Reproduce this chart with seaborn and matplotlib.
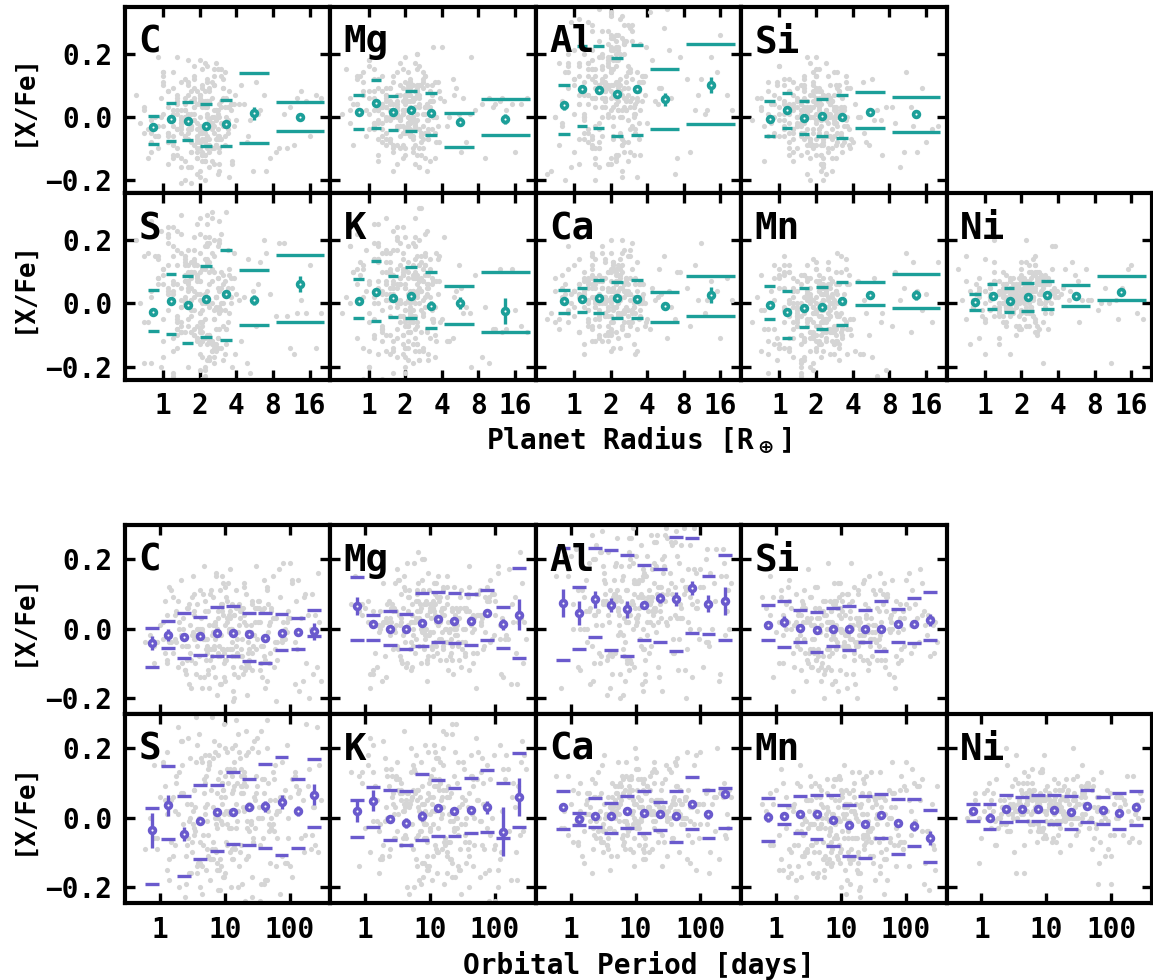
import matplotlib
matplotlib.use("Agg")
import matplotlib.pyplot as plt
import numpy as np
import pandas as pd
import seaborn as sns
from matplotlib.ticker import NullLocator

sns.set_theme(style="white")
plt.rcParams["font.family"] = ["DejaVu Sans Mono", "DejaVu Sans"]
plt.rcParams["font.weight"] = "bold"
plt.rcParams["mathtext.fontset"] = "dejavusans"
plt.rcParams["axes.unicode_minus"] = True
plt.rcParams["text.color"] = "black"
plt.rcParams["axes.labelcolor"] = "black"
plt.rcParams["xtick.color"] = "black"
plt.rcParams["ytick.color"] = "black"

TEAL = "#1c9f99"
PURPLE = "#6a5acd"
GREY = "#d5d5d5"

elements = ["C", "Mg", "Al", "Si", "S", "K", "Ca", "Mn", "Ni"]

# ---------------- background sample ----------------
# host-star abundances ([X/Fe]); each host has an inner (a) and an outer (b) planet
radius_vals = [1.2, 2.4, 0.9, 1.7, 2.8, 3.1, 1.4, 2.2, 0.7, 1.9, 2.6, 3.4, 1.1, 2.0, 5.2, 1.5, 2.3, 2.9, 1.3, 0.8,
               2.1, 3.8, 1.6, 2.5, 12.0, 1.0, 2.7, 3.2, 1.8, 2.2, 0.6, 1.4, 2.4, 3.0, 1.2, 2.0, 7.5, 1.7, 2.6, 3.6,
               1.5, 2.1, 0.9, 1.9, 2.8, 4.2, 1.3, 2.3, 2.5, 1.1, 3.3, 16.0, 1.6, 2.0, 2.7, 0.75, 1.8, 2.4, 3.5, 1.4,
               2.2, 1.0, 2.9, 6.3, 1.7, 2.1, 2.6, 1.2, 3.1, 0.85, 1.5, 2.3, 2.0, 4.6, 1.9, 2.5, 1.3, 3.0, 9.8, 1.6,
               2.2, 2.8, 1.1, 0.95, 2.4, 3.4, 1.8, 2.1, 1.4, 2.7, 13.5, 1.0, 2.0, 3.2, 1.7, 2.3, 0.65, 1.5, 2.6, 3.9,
               1.2, 2.2, 5.8, 1.9, 2.5, 1.3, 2.9, 1.6, 2.1, 3.6, 0.8, 1.8, 2.4, 20.0, 1.1, 2.7, 1.4, 3.0, 2.0, 1.7,
               2.3, 4.9, 1.5, 2.6, 0.9, 1.2, 2.2, 3.3, 11.0, 1.9, 2.8, 1.6, 2.1, 1.0, 3.1, 7.0, 1.3, 2.4, 2.5, 1.8,
               1.4, 2.0, 3.7, 0.7, 2.2, 1.7, 2.9, 15.0, 1.5, 2.3]
period_vals = [3.5, 12.0, 0.8, 25.0, 6.2, 45.0, 2.1, 9.8, 150.0, 18.0, 4.4, 1.5, 33.0, 7.7, 70.0, 14.0, 2.9, 260.0, 11.0, 5.3,
               21.0, 1.1, 8.6, 40.0, 3.0, 110.0, 16.0, 6.8, 55.0, 2.4, 13.0, 0.6, 28.0, 9.0, 4.0, 85.0, 19.0, 1.8, 36.0, 7.1,
               200.0, 10.5, 3.3, 23.0, 5.8, 1.3, 48.0, 15.0, 8.1, 300.0, 2.6, 30.0, 12.5, 4.8, 65.0, 0.9, 17.0, 6.5, 125.0, 22.0,
               3.8, 9.4, 42.0, 2.0, 14.5, 95.0, 5.0, 26.0, 1.6, 11.5, 60.0, 7.3, 180.0, 20.0, 3.1, 38.0, 8.8, 1.2, 16.5, 4.6,
               75.0, 13.5, 2.3, 31.0, 6.0, 240.0, 10.0, 27.0, 3.6, 50.0, 1.9, 18.5, 7.9, 135.0, 24.0, 5.5, 0.7, 12.8, 44.0, 2.8,
               9.2, 58.0, 4.2, 21.5, 1.4, 100.0, 15.5, 6.6, 35.0, 3.4, 11.8, 165.0, 8.3, 29.0, 2.2, 5.1, 80.0, 19.5, 1.7, 13.2,
               4.9, 40.0, 7.5, 220.0, 10.8, 2.5, 26.5, 6.3, 62.0, 17.5, 3.2, 120.0, 9.6, 1.0, 34.0, 5.7, 14.0, 90.0, 8.5, 23.5,
               2.7, 46.0, 4.1, 280.0, 12.2, 7.0, 1.3, 52.0, 18.0, 3.9]
radius_vals_b = [2.0, 1.3, 2.6, 1.8, 0.9, 2.3, 3.0, 1.5, 2.1, 1.1, 2.8, 1.7, 2.4, 3.5, 1.2, 1.9, 2.2, 0.8, 2.7, 1.6,
                 4.4, 2.5, 1.4, 2.0, 3.2, 1.0, 1.8, 2.9, 2.3, 1.3, 6.8, 2.1, 1.6, 2.6, 1.1, 3.3, 1.9, 2.4, 0.7, 1.5,
                 2.2, 3.1, 1.7, 2.8, 1.2, 2.0, 10.5, 1.4, 2.5, 3.7, 1.8, 2.3, 0.95, 1.6, 2.7, 1.3, 3.4, 2.1, 1.9, 2.4,
                 1.1, 2.6, 5.5, 1.5, 2.0, 3.0, 1.7, 2.2, 1.2, 2.9, 0.85, 1.8, 2.5, 3.6, 1.4, 2.1, 18.0, 1.6, 2.3, 1.0,
                 2.8, 1.9, 3.2, 1.3, 2.4, 4.0, 1.5, 2.0, 0.75, 2.6, 1.7, 3.1, 2.2, 1.2, 8.5, 1.8, 2.5, 1.4, 2.9, 2.0,
                 1.1, 3.5, 1.6, 2.3, 1.9, 0.9, 2.7, 1.3, 2.1, 3.8, 1.5, 2.4, 1.7, 12.5, 2.0, 1.2, 2.8, 1.8, 3.3, 1.4,
                 2.2, 0.8, 1.6, 2.6, 5.0, 1.9, 1.1, 2.5, 3.0, 1.7, 2.1, 1.3, 2.4, 6.0, 1.5, 2.0, 2.9, 1.8, 1.0, 2.3,
                 3.4, 1.6, 2.2, 1.2, 2.7, 1.4, 9.0, 2.0, 1.9, 2.5]
period_vals_b = [5.0, 17.0, 2.2, 48.0, 9.5, 1.4, 28.0, 7.0, 95.0, 13.0, 3.7, 60.0, 11.0, 22.0, 4.5, 190.0, 8.0, 1.9, 35.0, 15.0,
                 6.0, 75.0, 2.8, 19.0, 10.0, 40.0, 3.2, 130.0, 12.0, 5.5, 26.0, 0.9, 8.8, 55.0, 16.0, 4.1, 230.0, 9.0, 2.5, 32.0,
                 14.0, 6.7, 85.0, 1.6, 21.0, 11.5, 3.5, 44.0, 7.5, 160.0, 18.0, 5.2, 2.0, 30.0, 10.5, 65.0, 4.3, 13.5, 1.2, 25.0,
                 8.2, 110.0, 3.0, 20.0, 6.3, 38.0, 15.5, 2.4, 70.0, 12.5, 5.8, 270.0, 9.8, 1.7, 27.0, 4.8, 16.5, 50.0, 7.2, 3.4,
                 23.0, 140.0, 11.0, 2.7, 42.0, 6.5, 19.5, 0.8, 14.0, 90.0, 5.0, 31.0, 8.5, 2.1, 58.0, 17.5, 4.0, 210.0, 10.2, 3.8,
                 24.0, 7.8, 1.5, 36.0, 13.0, 80.0, 5.4, 2.9, 20.5, 9.3, 46.0, 3.1, 120.0, 15.0, 6.9, 1.3, 29.0, 11.2, 4.6, 62.0,
                 8.0, 18.5, 2.3, 175.0, 12.0, 5.6, 34.0, 3.6, 100.0, 21.5, 7.4, 1.8, 26.0, 10.0, 52.0, 4.4, 250.0, 14.5, 6.1, 2.6,
                 39.0, 9.0, 16.0, 1.1, 68.0, 5.3, 22.5, 3.3, 12.8, 7.6]

y_C = [-0.03, 0.05, -0.10, 0.01, -0.06, 0.12, -0.02, -0.14, 0.03, -0.08, 0.00, -0.04, 0.08, -0.19, -0.01, 0.04, -0.07, -0.11, 0.02, -0.05,
       0.10, -0.03, -0.16, 0.06, -0.09, 0.14, -0.01, -0.06, 0.03, -0.12, 0.07, -0.04, -0.02, 0.15, -0.08, 0.00, -0.13, 0.05, -0.05, 0.02,
       -0.20, 0.09, -0.03, -0.07, 0.01, 0.04, -0.10, 0.11, -0.02, -0.15, 0.06, -0.06, 0.00, 0.18, -0.09, -0.04, 0.03, -0.11, 0.08, -0.01,
       -0.05, 0.13, -0.17, 0.02, -0.08, 0.05, -0.03, -0.12, 0.09, 0.00, -0.06, 0.16, -0.10, 0.04, -0.02, -0.14, 0.07, -0.07, 0.01, 0.10,
       -0.04, -0.18, 0.03, 0.06, -0.09, -0.01, 0.12, -0.05, -0.13, 0.02, 0.08, -0.03, -0.08, 0.14, -0.11, 0.05, -0.02, 0.00, -0.15, 0.07,
       -0.06, 0.03, 0.11, -0.10, -0.04, 0.19, -0.07, 0.01, -0.12, 0.04, -0.01, 0.09, -0.16, 0.06, -0.05, -0.09, 0.02, 0.13, -0.03, -0.21,
       0.05, -0.08, 0.00, 0.10, -0.06, -0.13, 0.08, -0.02, 0.03, -0.11, 0.15, -0.04, -0.07, 0.01, 0.06, -0.17, 0.04, -0.01, 0.11, -0.09,
       -0.05, 0.07, -0.14, 0.02, 0.17, -0.03, -0.10, 0.05, -0.06, 0.00]
y_Mg = [0.02, -0.04, 0.07, 0.00, 0.11, -0.07, 0.03, 0.05, -0.02, 0.15, -0.10, 0.01, 0.06, -0.05, 0.09, 0.02, -0.01, 0.13, -0.08, 0.04,
        -0.03, 0.08, 0.00, -0.12, 0.05, 0.18, -0.06, 0.03, 0.10, -0.02, 0.01, 0.07, -0.09, 0.04, 0.12, -0.04, 0.02, -0.15, 0.06, 0.00,
        0.09, -0.05, 0.14, 0.01, -0.07, 0.05, 0.03, -0.01, 0.20, -0.03, 0.07, -0.11, 0.02, 0.11, -0.06, 0.04, 0.00, 0.08, -0.13, 0.06,
        -0.02, 0.16, 0.01, -0.08, 0.05, 0.10, -0.04, 0.03, -0.01, 0.13, 0.02, -0.10, 0.07, 0.00, -0.05, 0.09, 0.04, -0.17, 0.06, 0.01,
        0.12, -0.03, 0.08, -0.06, 0.03, 0.22, -0.01, 0.05, -0.09, 0.10, 0.02, -0.04, 0.07, -0.14, 0.04, 0.00, 0.15, -0.07, 0.03, 0.06,
        -0.02, 0.11, -0.11, 0.05, 0.01, 0.08, -0.05, 0.13, 0.00, -0.08, 0.04, 0.17, -0.03, 0.06, 0.02, -0.12, 0.09, -0.01, 0.05, 0.03,
        -0.06, 0.12, 0.00, -0.16, 0.07, 0.02, -0.04, 0.10, 0.04, -0.09, 0.14, 0.01, -0.02, 0.06, -0.07, 0.19, 0.03, -0.03, 0.08, 0.00,
        0.05, -0.10, 0.11, 0.02, -0.05, 0.07, -0.13, 0.04, 0.09, -0.01]
y_Al = [0.08, -0.05, 0.20, 0.03, 0.14, -0.12, 0.27, 0.06, 0.00, 0.17, -0.08, 0.11, 0.31, 0.02, 0.09, -0.15, 0.22, 0.05, 0.13, -0.02,
        0.18, 0.07, -0.10, 0.25, 0.01, 0.12, 0.35, -0.04, 0.10, 0.04, -0.18, 0.15, 0.08, 0.29, -0.07, 0.06, 0.19, 0.00, 0.24, 0.11,
        -0.13, 0.03, 0.16, 0.09, -0.01, 0.33, 0.07, 0.21, -0.09, 0.13, 0.05, 0.26, -0.16, 0.10, 0.02, 0.17, 0.08, -0.06, 0.23, 0.12,
        0.04, -0.11, 0.28, 0.06, 0.15, -0.03, 0.09, 0.20, 0.00, 0.14, -0.20, 0.11, 0.32, 0.05, 0.18, -0.07, 0.07, 0.24, 0.02, 0.10,
        -0.14, 0.16, 0.04, 0.30, 0.08, -0.02, 0.13, 0.21, -0.09, 0.06, 0.19, 0.01, 0.26, -0.05, 0.12, 0.09, -0.17, 0.15, 0.03, 0.22,
        0.07, -0.12, 0.34, 0.10, 0.00, 0.17, 0.05, -0.08, 0.25, 0.13, -0.03, 0.08, 0.20, 0.02, -0.15, 0.11, 0.29, 0.06, 0.14, -0.06,
        0.18, 0.04, -0.10, 0.23, 0.09, 0.01, 0.16, -0.19, 0.12, 0.27, 0.07, -0.04, 0.10, 0.21, 0.03, -0.13, 0.15, 0.08, 0.36, 0.05,
        -0.07, 0.19, 0.11, 0.00, 0.24, 0.06, -0.11, 0.14, 0.09, 0.02]
y_Si = [0.01, -0.05, 0.04, -0.09, 0.00, 0.07, -0.03, -0.12, 0.03, 0.10, -0.06, 0.02, -0.01, 0.13, -0.08, 0.05, -0.15, 0.01, -0.04, 0.08,
        0.00, -0.10, 0.06, -0.02, 0.03, 0.16, -0.07, 0.02, -0.13, 0.04, -0.01, 0.09, -0.05, 0.00, 0.12, -0.09, 0.03, -0.18, 0.06, -0.03,
        0.01, 0.08, -0.06, 0.14, -0.02, 0.04, -0.11, 0.00, 0.07, -0.04, 0.02, -0.08, 0.10, -0.01, 0.05, -0.14, 0.03, -0.06, 0.11, 0.00,
        -0.03, 0.06, -0.09, 0.02, 0.19, -0.05, 0.01, -0.12, 0.08, -0.02, 0.04, -0.07, 0.13, 0.00, -0.10, 0.05, -0.04, 0.09, -0.16, 0.03,
        -0.01, 0.07, -0.06, 0.11, 0.02, -0.08, 0.00, 0.15, -0.03, 0.05, -0.11, 0.01, 0.08, -0.05, 0.03, -0.20, 0.06, -0.02, 0.10, -0.07,
        0.04, -0.01, 0.12, -0.09, 0.00, 0.07, -0.13, 0.02, -0.04, 0.09, -0.06, 0.17, 0.01, -0.03, 0.05, -0.10, 0.03, -0.08, 0.06, 0.00,
        -0.15, 0.11, -0.02, 0.04, -0.05, 0.08, 0.01, -0.11, 0.14, -0.04, 0.02, -0.07, 0.06, -0.01, 0.10, -0.12, 0.03, 0.00, -0.06, 0.07,
        -0.03, 0.13, -0.09, 0.02, -0.17, 0.05, -0.02, 0.09, -0.05, 0.01]
y_S = [0.03, -0.10, 0.15, -0.02, 0.08, -0.18, 0.22, 0.01, -0.06, 0.12, -0.14, 0.05, 0.19, -0.03, -0.22, 0.09, 0.00, 0.26, -0.08, 0.04,
       -0.12, 0.16, -0.01, 0.07, -0.16, 0.11, 0.02, -0.25, 0.13, -0.05, 0.20, -0.09, 0.06, -0.02, 0.24, -0.13, 0.03, 0.10, -0.19, 0.00,
       0.14, -0.07, 0.08, -0.11, 0.18, 0.01, -0.04, 0.28, -0.15, 0.05, -0.08, 0.12, -0.20, 0.07, 0.02, -0.06, 0.17, -0.12, 0.09, -0.01,
       0.21, -0.17, 0.04, 0.13, -0.09, 0.00, 0.10, -0.23, 0.06, -0.03, 0.15, -0.10, 0.27, 0.02, -0.07, 0.11, -0.14, 0.05, 0.19, -0.05,
       -0.11, 0.08, -0.02, 0.23, -0.18, 0.03, 0.12, -0.06, 0.16, -0.13, 0.01, 0.09, -0.21, 0.07, -0.04, 0.14, 0.00, -0.09, 0.20, -0.16,
       0.04, 0.11, -0.07, 0.25, -0.12, 0.06, -0.01, 0.17, -0.24, 0.08, 0.02, -0.10, 0.13, -0.03, 0.22, -0.15, 0.05, 0.10, -0.08, 0.01,
       0.18, -0.19, 0.07, -0.05, 0.14, -0.11, 0.03, 0.29, -0.14, 0.09, -0.02, 0.12, -0.17, 0.06, 0.00, 0.16, -0.08, 0.21, -0.12, 0.04,
       -0.06, 0.10, -0.20, 0.15, 0.02, -0.09, 0.19, -0.03, 0.07, -0.13]
y_K = [0.05, -0.08, 0.12, 0.00, -0.14, 0.09, 0.03, -0.04, 0.18, -0.10, 0.07, -0.01, 0.14, -0.17, 0.04, 0.10, -0.06, 0.22, -0.02, 0.06,
       -0.12, 0.15, 0.01, -0.07, 0.11, -0.20, 0.08, 0.02, 0.19, -0.09, -0.03, 0.13, -0.15, 0.05, 0.25, -0.05, 0.09, -0.11, 0.00, 0.16,
       0.03, -0.18, 0.11, -0.04, 0.07, 0.21, -0.08, 0.01, -0.13, 0.14, 0.06, -0.02, 0.17, -0.22, 0.04, 0.10, -0.06, 0.08, -0.10, 0.27,
       0.02, -0.15, 0.12, -0.01, 0.05, -0.09, 0.20, 0.00, -0.16, 0.09, 0.13, -0.04, 0.06, -0.12, 0.16, 0.03, -0.07, 0.23, -0.19, 0.07,
       -0.03, 0.11, -0.11, 0.04, 0.18, -0.05, 0.01, -0.14, 0.10, 0.30, -0.08, 0.06, -0.02, 0.14, -0.17, 0.08, 0.02, -0.10, 0.12, -0.06,
       0.19, -0.01, 0.05, -0.13, 0.09, -0.24, 0.15, 0.03, -0.07, 0.07, 0.11, -0.04, 0.21, -0.09, 0.00, 0.13, -0.15, 0.06, -0.02, 0.17,
       0.04, -0.11, 0.09, -0.18, 0.02, 0.14, -0.05, 0.08, -0.08, 0.24, 0.01, -0.12, 0.10, -0.03, 0.05, -0.20, 0.16, 0.00, -0.06, 0.12,
       0.07, -0.14, 0.03, 0.18, -0.09, 0.06, -0.01, 0.11, -0.16, 0.04]
y_Ca = [0.01, 0.05, -0.03, 0.08, -0.06, 0.02, 0.11, -0.01, 0.04, -0.09, 0.06, 0.00, 0.14, -0.04, 0.03, -0.12, 0.07, 0.01, -0.02, 0.09,
        0.05, -0.07, 0.02, 0.16, -0.03, 0.04, -0.10, 0.08, 0.00, 0.06, -0.05, 0.12, 0.01, -0.02, 0.03, -0.15, 0.10, 0.05, -0.06, 0.02,
        0.07, -0.01, 0.18, -0.04, 0.04, -0.08, 0.01, 0.09, -0.03, 0.06, 0.13, -0.11, 0.03, 0.00, 0.08, -0.05, 0.02, 0.11, -0.02, 0.05,
        -0.09, 0.04, 0.15, -0.01, 0.07, -0.06, 0.02, 0.10, -0.13, 0.03, 0.06, -0.03, 0.20, 0.01, -0.07, 0.05, 0.08, -0.02, 0.12, -0.04,
        0.03, -0.10, 0.06, 0.00, 0.09, -0.05, 0.14, 0.02, -0.08, 0.04, 0.07, -0.01, 0.11, -0.16, 0.05, 0.01, -0.03, 0.08, 0.17, -0.06,
        0.02, 0.06, -0.11, 0.04, 0.10, -0.02, 0.03, -0.07, 0.13, 0.00, 0.05, -0.04, 0.08, 0.01, -0.09, 0.07, 0.15, -0.03, 0.04, -0.12,
        0.09, 0.02, -0.05, 0.06, 0.11, -0.01, 0.03, -0.08, 0.19, 0.05, -0.02, 0.07, -0.14, 0.04, 0.00, 0.10, -0.06, 0.02, 0.12, -0.04,
        0.06, -0.10, 0.03, 0.08, -0.01, 0.16, -0.07, 0.04, 0.01, -0.03]
y_Mn = [-0.02, 0.04, -0.08, 0.01, -0.13, 0.06, -0.04, -0.10, 0.09, -0.01, -0.16, 0.03, -0.06, 0.11, -0.03, -0.19, 0.05, -0.08, 0.00, -0.12,
        0.07, -0.05, -0.01, 0.13, -0.09, -0.14, 0.02, -0.03, 0.08, -0.17, -0.06, 0.04, -0.11, 0.00, 0.10, -0.07, -0.21, 0.03, -0.02, 0.06,
        -0.13, -0.04, 0.12, -0.09, 0.01, -0.15, 0.05, -0.06, -0.01, 0.09, -0.11, 0.03, -0.18, -0.03, 0.07, -0.08, 0.00, -0.12, 0.14, -0.05,
        -0.02, 0.05, -0.10, -0.23, 0.02, -0.07, 0.08, -0.04, -0.14, 0.04, 0.00, -0.09, 0.11, -0.16, -0.03, 0.06, -0.06, -0.12, 0.01, 0.09,
        -0.08, -0.01, 0.15, -0.11, 0.03, -0.05, -0.20, 0.07, -0.02, -0.09, 0.04, -0.13, 0.00, 0.10, -0.07, -0.15, 0.02, -0.04, 0.06, -0.10,
        0.12, -0.06, -0.17, 0.01, -0.03, 0.08, -0.12, -0.01, 0.04, -0.08, -0.22, 0.05, -0.05, 0.13, -0.14, 0.00, -0.07, 0.03, -0.10, 0.07,
        -0.02, -0.16, 0.09, -0.04, 0.01, -0.11, 0.05, -0.08, 0.16, -0.06, -0.13, 0.02, -0.01, 0.08, -0.18, -0.03, 0.04, -0.09, 0.11, -0.05,
        0.00, -0.12, 0.06, -0.15, 0.03, -0.07, 0.10, -0.02, -0.10, 0.01]
y_Ni = [0.02, -0.01, 0.05, 0.00, 0.08, -0.03, 0.03, 0.06, -0.05, 0.01, 0.10, 0.02, -0.02, 0.04, 0.13, -0.07, 0.03, 0.00, 0.07, -0.01,
        0.05, 0.02, -0.04, 0.09, 0.01, 0.04, -0.10, 0.06, 0.03, -0.02, 0.11, 0.00, 0.05, -0.06, 0.02, 0.08, 0.01, -0.03, 0.15, 0.04,
        -0.01, 0.06, 0.02, -0.08, 0.07, 0.03, 0.00, 0.10, -0.04, 0.05, 0.01, 0.12, -0.02, 0.04, 0.06, -0.13, 0.03, 0.08, 0.00, 0.02,
        0.05, -0.05, 0.09, 0.01, -0.02, 0.07, 0.04, 0.20, -0.01, 0.03, 0.06, -0.07, 0.02, 0.11, 0.00, 0.04, -0.03, 0.08, 0.05, -0.16,
        0.01, 0.06, 0.03, -0.04, 0.10, 0.02, -0.01, 0.07, 0.04, -0.09, 0.05, 0.00, 0.13, 0.03, -0.02, 0.06, 0.01, -0.06, 0.09, 0.04,
        0.02, -0.03, 0.07, 0.00, 0.05, -0.11, 0.08, 0.03, 0.01, 0.18, -0.01, 0.04, 0.06, -0.05, 0.02, 0.10, 0.00, 0.05, -0.08, 0.03,
        0.07, 0.01, -0.02, 0.12, 0.04, -0.04, 0.06, 0.02, -0.19, 0.08, 0.03, 0.00, 0.05, -0.06, 0.09, 0.01, 0.04, -0.01, 0.14, 0.02,
        0.06, -0.03, 0.03, 0.07, -0.07, 0.05, 0.00, 0.11, 0.02, 0.04]
abundances = {"C": y_C, "Mg": y_Mg, "Al": y_Al, "Si": y_Si, "S": y_S,
              "K": y_K, "Ca": y_Ca, "Mn": y_Mn, "Ni": y_Ni}

# ---------------- binned statistics vs planet radius ----------------
radius_bin_center = [0.83, 1.16, 1.6, 2.25, 3.27, 5.6, 13.3]
radius_bin_lo = [0.745, 1.05, 1.44, 2.0, 2.92, 4.2, 8.4]
radius_bin_hi = [0.922, 1.27, 1.75, 2.52, 3.68, 7.36, 21.1]

rad_med = {
    "C": [-0.032, -0.006, -0.013, -0.028, -0.024, 0.011, 0.000],
    "Mg": [0.015, 0.042, 0.014, 0.020, 0.011, -0.015, -0.007],
    "Al": [0.036, 0.087, 0.084, 0.071, 0.087, 0.055, 0.100],
    "Si": [-0.008, 0.020, -0.003, 0.001, -0.001, 0.014, 0.009],
    "S": [-0.026, 0.008, -0.006, 0.013, 0.029, 0.011, 0.061],
    "K": [0.007, 0.037, 0.017, 0.023, -0.007, 0.001, -0.024],
    "Ca": [0.006, 0.013, 0.018, 0.017, 0.014, -0.009, 0.026],
    "Mn": [-0.004, -0.028, -0.015, -0.011, 0.006, 0.027, 0.026],
    "Ni": [0.004, 0.024, 0.007, 0.019, 0.026, 0.024, 0.035],
}
rad_err = {
    "C": [0.008, 0.007, 0.007, 0.007, 0.008, 0.020, 0.010],
    "Mg": [0.008, 0.007, 0.007, 0.007, 0.008, 0.015, 0.015],
    "Al": [0.015, 0.010, 0.008, 0.010, 0.012, 0.020, 0.025],
    "Si": [0.007, 0.007, 0.006, 0.006, 0.007, 0.010, 0.012],
    "S": [0.012, 0.010, 0.010, 0.008, 0.010, 0.015, 0.025],
    "K": [0.008, 0.008, 0.008, 0.008, 0.015, 0.020, 0.040],
    "Ca": [0.006, 0.006, 0.006, 0.006, 0.007, 0.008, 0.025],
    "Mn": [0.007, 0.007, 0.006, 0.006, 0.008, 0.010, 0.015],
    "Ni": [0.005, 0.005, 0.005, 0.005, 0.005, 0.008, 0.010],
}
rad_p84 = {
    "C": [0.003, 0.043, 0.048, 0.040, 0.052, 0.138, 0.046],
    "Mg": [0.068, 0.117, 0.066, 0.083, 0.075, 0.013, 0.055],
    "Al": [0.102, 0.224, 0.224, 0.186, 0.226, 0.151, 0.230],
    "Si": [0.051, 0.074, 0.049, 0.055, 0.068, 0.079, 0.063],
    "S": [0.041, 0.092, 0.087, 0.118, 0.170, 0.107, 0.152],
    "K": [0.076, 0.134, 0.086, 0.114, 0.100, 0.056, 0.100],
    "Ca": [0.043, 0.047, 0.074, 0.067, 0.074, 0.035, 0.088],
    "Mn": [0.054, 0.040, 0.047, 0.051, 0.068, 0.066, 0.092],
    "Ni": [0.029, 0.060, 0.050, 0.065, 0.070, 0.058, 0.087],
}
rad_p16 = {
    "C": [-0.087, -0.078, -0.072, -0.093, -0.091, -0.083, -0.046],
    "Mg": [-0.038, -0.036, -0.043, -0.045, -0.058, -0.097, -0.057],
    "Al": [-0.056, -0.029, -0.036, -0.062, -0.057, -0.038, -0.024],
    "Si": [-0.062, -0.037, -0.055, -0.062, -0.068, -0.036, -0.049],
    "S": [-0.088, -0.097, -0.126, -0.107, -0.116, -0.068, -0.058],
    "K": [-0.045, -0.057, -0.044, -0.046, -0.079, -0.065, -0.090],
    "Ca": [-0.031, -0.028, -0.031, -0.045, -0.045, -0.059, -0.041],
    "Mn": [-0.050, -0.111, -0.074, -0.080, -0.067, -0.004, -0.015],
    "Ni": [-0.021, -0.019, -0.027, -0.025, -0.017, -0.009, 0.012],
}

# ---------------- binned statistics vs orbital period ----------------
period_bin_center = [0.75, 1.33, 2.37, 4.2, 7.5, 13.3, 23.7, 42.0, 75.0, 133.0, 237.0]

per_med = {
    "C": [-0.041, -0.019, -0.025, -0.021, -0.012, -0.013, -0.015, -0.027, -0.013, -0.010, -0.008],
    "Mg": [0.065, 0.012, 0.000, -0.001, 0.017, 0.027, 0.022, 0.021, 0.046, 0.012, 0.040],
    "Al": [0.073, 0.044, 0.084, 0.069, 0.055, 0.067, 0.088, 0.086, 0.116, 0.072, 0.079],
    "Si": [0.009, 0.020, 0.001, -0.003, 0.000, 0.000, 0.000, -0.001, 0.014, 0.012, 0.024],
    "S": [-0.037, 0.035, -0.047, -0.010, 0.017, 0.016, 0.031, 0.032, 0.045, 0.019, 0.066],
    "K": [0.018, 0.048, -0.004, -0.015, 0.005, 0.028, 0.018, 0.021, 0.029, -0.041, 0.060],
    "Ca": [0.029, -0.005, 0.004, 0.005, 0.020, 0.013, 0.010, 0.003, 0.040, 0.009, 0.067],
    "Mn": [0.001, 0.005, 0.011, 0.009, -0.007, -0.021, -0.020, 0.008, -0.017, -0.025, -0.060],
    "Ni": [0.020, 0.000, 0.024, 0.024, 0.025, 0.022, 0.015, 0.032, 0.022, 0.013, 0.031],
}
per_err = {
    "C": [0.020, 0.017, 0.008, 0.007, 0.007, 0.007, 0.007, 0.008, 0.008, 0.010, 0.025],
    "Mg": [0.025, 0.008, 0.007, 0.007, 0.007, 0.007, 0.007, 0.008, 0.010, 0.015, 0.045],
    "Al": [0.040, 0.035, 0.025, 0.020, 0.025, 0.012, 0.015, 0.020, 0.020, 0.025, 0.040],
    "Si": [0.010, 0.015, 0.006, 0.006, 0.006, 0.006, 0.006, 0.006, 0.007, 0.008, 0.018],
    "S": [0.050, 0.030, 0.020, 0.010, 0.010, 0.008, 0.010, 0.015, 0.020, 0.015, 0.030],
    "K": [0.030, 0.030, 0.010, 0.015, 0.015, 0.010, 0.010, 0.010, 0.020, 0.070, 0.055],
    "Ca": [0.010, 0.012, 0.006, 0.006, 0.006, 0.006, 0.006, 0.006, 0.008, 0.012, 0.010],
    "Mn": [0.015, 0.008, 0.007, 0.006, 0.006, 0.006, 0.006, 0.007, 0.008, 0.015, 0.020],
    "Ni": [0.008, 0.012, 0.005, 0.005, 0.005, 0.005, 0.005, 0.005, 0.006, 0.007, 0.008],
}
per_p84 = {
    "C": [0.002, 0.021, 0.044, 0.034, 0.063, 0.064, 0.046, 0.046, 0.042, 0.030, 0.054],
    "Mg": [0.148, 0.040, 0.050, 0.042, 0.102, 0.104, 0.103, 0.098, 0.111, 0.062, 0.174],
    "Al": [0.233, 0.120, 0.233, 0.225, 0.212, 0.182, 0.171, 0.263, 0.261, 0.151, 0.212],
    "Si": [0.067, 0.080, 0.053, 0.047, 0.059, 0.066, 0.052, 0.078, 0.057, 0.088, 0.104],
    "S": [0.027, 0.147, 0.063, 0.095, 0.094, 0.130, 0.111, 0.155, 0.175, 0.112, 0.169],
    "K": [0.051, 0.088, 0.080, 0.076, 0.125, 0.109, 0.084, 0.115, 0.136, 0.100, 0.185],
    "Ca": [0.076, 0.012, 0.055, 0.042, 0.061, 0.076, 0.044, 0.076, 0.117, 0.079, 0.086],
    "Mn": [0.056, 0.037, 0.062, 0.065, 0.064, 0.036, 0.063, 0.067, 0.053, 0.053, 0.022],
    "Ni": [0.040, 0.040, 0.064, 0.059, 0.065, 0.064, 0.062, 0.080, 0.059, 0.072, 0.077],
}
per_p16 = {
    "C": [-0.110, -0.057, -0.084, -0.077, -0.080, -0.079, -0.093, -0.099, -0.061, -0.058, -0.021],
    "Mg": [-0.033, -0.033, -0.048, -0.058, -0.051, -0.038, -0.043, -0.046, -0.033, -0.057, -0.085],
    "Al": [-0.091, -0.058, -0.024, -0.062, -0.078, -0.033, -0.040, -0.065, -0.014, -0.017, -0.033],
    "Si": [-0.033, -0.053, -0.038, -0.067, -0.051, -0.062, -0.040, -0.066, -0.038, -0.043, -0.033],
    "S": [-0.192, -0.062, -0.167, -0.120, -0.095, -0.076, -0.079, -0.088, -0.108, -0.087, -0.027],
    "K": [-0.056, -0.028, -0.064, -0.080, -0.064, -0.052, -0.052, -0.044, -0.041, -0.060, -0.027],
    "Ca": [-0.032, -0.022, -0.028, -0.044, -0.031, -0.044, -0.035, -0.070, -0.033, -0.060, -0.030],
    "Mn": [-0.067, -0.020, -0.045, -0.061, -0.083, -0.111, -0.116, -0.060, -0.105, -0.083, -0.129],
    "Ni": [-0.010, -0.034, -0.014, -0.011, -0.011, -0.019, -0.032, -0.012, -0.020, -0.032, -0.022],
}

radius_ticks = [1, 2, 4, 8, 16]
period_ticks = [1, 10, 100]

# ---------------- layout ----------------
W, H = 1153.0, 980.0
fig = plt.figure(figsize=(W / 100, H / 100), dpi=100)

PANEL_W = 205.4
LEFT0 = 125.0
grid_pos = [(0, 0), (0, 1), (0, 2), (0, 3), (1, 0), (1, 1), (1, 2), (1, 3), (1, 4)]

n = min(len(radius_vals), len(period_vals), len(radius_vals_b), len(period_vals_b),
        *[len(v) for v in abundances.values()])


def make_ax(row, col, top_px, h_px):
    left = LEFT0 + col * PANEL_W
    top = top_px + row * h_px
    return fig.add_axes([left / W, 1 - (top + h_px) / H, PANEL_W / W, h_px / H])


def style_ax(ax, show_x, show_y, xticks, ylim, xlim):
    ax.set_xlim(*xlim)
    ax.set_ylim(*ylim)
    ax.set_xticks(xticks)
    ax.set_xticklabels([str(t) for t in xticks])
    ax.xaxis.set_minor_locator(NullLocator())
    ax.set_yticks([-0.2, 0.0, 0.2])
    ax.yaxis.set_minor_locator(NullLocator())
    ax.tick_params(axis="both", which="major", direction="in", length=7, width=2.4,
                   top=True, right=True, bottom=True, left=True,
                   labelsize=20, pad=9, labelbottom=show_x, labelleft=show_y,
                   colors="black")
    for lab in ax.get_xticklabels() + ax.get_yticklabels():
        lab.set_fontweight("bold")
    for sp in ax.spines.values():
        sp.set_linewidth(3)
        sp.set_color("black")
    ax.set_xlabel("")
    ax.set_ylabel("")
    ax.grid(False)


def draw_group(xa, xb, base, centers, seg_lo, seg_hi, med, err, p84, p16, color,
               top_px, h_px, xlim, ylim, xticks, xlabel, xlabel_y):
    for el, (r, c) in zip(elements, grid_pos):
        ax = make_ax(r, c, top_px, h_px)
        yv = abundances[el][:n]
        df = pd.DataFrame({"x": list(xa[:n]) + list(xb[:n]), "y": list(yv) + list(yv)})
        sns.scatterplot(data=df, x="x", y="y", ax=ax, color=GREY, s=14,
                        linewidth=0, legend=False, zorder=1)
        ax.set_xscale("log", base=base)
        ax.hlines(p84[el], seg_lo, seg_hi, colors=color, lw=2.4, zorder=3)
        ax.hlines(p16[el], seg_lo, seg_hi, colors=color, lw=2.4, zorder=3)
        ax.errorbar(centers, med[el], yerr=err[el], fmt="o", color=color,
                    ms=4.2, mfc="white", mec=color, mew=2.6, elinewidth=2.4,
                    capsize=0, zorder=4)
        ax.text(0.065, 0.905, el, transform=ax.transAxes, ha="left", va="top",
                fontsize=27, fontweight="bold", color="black", zorder=10)
        style_ax(ax, show_x=(r == 1), show_y=(c == 0), xticks=xticks, ylim=ylim, xlim=xlim)
    for r in range(2):
        yc = 1 - (top_px + r * h_px + h_px / 2) / H
        fig.text(24 / W, yc, "[X/Fe]", rotation=90, ha="center", va="center",
                 fontsize=18.5, fontweight="bold", color="black")
    fig.text(638.5 / W, xlabel_y, xlabel, ha="center", va="center",
             fontsize=20, fontweight="bold", color="black")


# radius group
draw_group(radius_vals, radius_vals_b, 2, radius_bin_center, radius_bin_lo, radius_bin_hi,
           rad_med, rad_err, rad_p84, rad_p16, TEAL,
           top_px=6.7, h_px=186.6, xlim=(0.485, 23.7), ylim=(-0.242, 0.348),
           xticks=radius_ticks, xlabel=r"Planet Radius [R$_\oplus$]",
           xlabel_y=1 - 440 / H)

# period group
pc = np.array(period_bin_center)
draw_group(period_vals, period_vals_b, 10, period_bin_center, pc / 1.28, pc * 1.28,
           per_med, per_err, per_p84, per_p16, PURPLE,
           top_px=525.0, h_px=189.0, xlim=(0.29, 425), ylim=(-0.246, 0.298),
           xticks=period_ticks, xlabel="Orbital Period [days]",
           xlabel_y=1 - 965 / H)

fig.savefig("out.png", dpi=100)
